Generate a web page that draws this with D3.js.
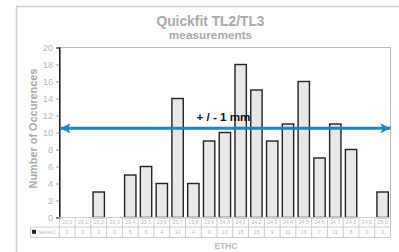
<!DOCTYPE html>
<html><head><meta charset="utf-8">
<script src="https://cdn.jsdelivr.net/npm/d3@7/dist/d3.min.js"></script>
<style>body{margin:0;background:#fff}svg{display:block;font-family:"Liberation Sans",Arial,sans-serif}</style>
</head><body><svg id="c" width="399" height="252"></svg>
<script>
const categories = ["23,0","23,1","23,2","23,3","23,4","23,5","23,6","23,7","23,8","23,9","24,0","24,1","24,2","24,3","24,4","24,5","24,6","24,7","24,8","24,9","25,0"];
const values = [0,0,3,0,5,6,4,14,4,9,10,18,15,9,11,16,7,11,8,0,3];
const yTicks = [0,2,4,6,8,10,12,14,16,18,20];
const tolerance = 10.5;
const seriesName = "Series1";

const svg = d3.select("#c");
const L = 59.3, R = 390.5, T = 47.5, B = 217.5;
const x = d3.scaleBand().domain(categories).range([L, R]).paddingInner(0.28).paddingOuter(0.14);
const xc = d3.scaleBand().domain(categories).range([L, R]);
const y = d3.scaleLinear().domain([0, 20]).range([B, T]);

// outer frame
svg.append("rect").attr("x",16.5).attr("y",6.5).attr("width",420).attr("height",300)
  .attr("fill","none").attr("stroke","#d0d0d0").attr("stroke-width",1.5);

// titles
svg.append("text").attr("x",210.5).attr("y",26).attr("text-anchor","middle")
  .attr("font-size",13.8).attr("font-weight","bold").attr("fill","#aaa").text("Quickfit TL2/TL3");
svg.append("text").attr("x",210.5).attr("y",38.5).attr("text-anchor","middle")
  .attr("font-size",11.8).attr("font-weight","bold").attr("fill","#aaa").text("measurements");

// plot frame (top, right)
svg.append("path").attr("d",`M${L},${T}H${R}V${B}`).attr("fill","none").attr("stroke","#bbb").attr("stroke-width",1);

// bars
svg.append("g").selectAll("rect").data(values).join("rect")
  .attr("x",(d,i)=>x(categories[i])).attr("width",x.bandwidth())
  .attr("y",d=>y(d)).attr("height",d=>B-y(d))
  .attr("fill","#e8e8e8").attr("stroke","#222").attr("stroke-width",1.4)
  .attr("display",d=>d>0?null:"none");

// y axis
const ya = svg.append("g").attr("transform",`translate(${L},0)`)
  .call(d3.axisLeft(y).tickValues(yTicks).tickSize(3).tickPadding(3));
ya.select(".domain").attr("stroke","#111").attr("stroke-width",1.5);
ya.selectAll(".tick line").attr("stroke","#999");
ya.selectAll(".tick text").attr("fill","#bbb").attr("font-size",9.5).attr("font-family","Liberation Sans, Arial, sans-serif");

svg.append("text").attr("transform",`translate(36.5,128.5) rotate(-90)`).attr("text-anchor","middle")
  .attr("font-size",10.9).attr("font-weight","bold").attr("fill","#aaa").text("Number of Occurences");

// data table
const r1 = B, r2 = 227, r3 = 237.5, tl = 30.7;
const tg = svg.append("g").attr("stroke","#ccc").attr("stroke-width",1).attr("fill","none");
tg.append("line").attr("x1",L).attr("x2",R).attr("y1",r1).attr("y2",r1);
tg.append("line").attr("x1",tl).attr("x2",R).attr("y1",r2).attr("y2",r2);
tg.append("line").attr("x1",tl).attr("x2",R).attr("y1",r3).attr("y2",r3);
tg.append("line").attr("x1",tl).attr("x2",tl).attr("y1",r2).attr("y2",r3);
tg.selectAll("line.v").data(categories.concat(["end"])).join("line").attr("class","v")
  .attr("x1",(d,i)=>L+i*xc.step()).attr("x2",(d,i)=>L+i*xc.step()).attr("y1",r1).attr("y2",r3);
svg.append("g").selectAll("text").data(categories).join("text")
  .attr("x",d=>xc(d)+xc.bandwidth()/2).attr("y",224.3).attr("text-anchor","middle")
  .attr("font-size",5.2).attr("fill","#bbb").text(d=>d);
svg.append("g").selectAll("text").data(values).join("text")
  .attr("x",(d,i)=>xc(categories[i])+xc.bandwidth()/2).attr("y",234.3).attr("text-anchor","middle")
  .attr("font-size",5.2).attr("fill","#bbb").text(d=>d);
svg.append("rect").attr("x",32).attr("y",229.8).attr("width",4).attr("height",4).attr("fill","#222");
svg.append("text").attr("x",38).attr("y",234.2).attr("font-size",5.2).attr("fill","#bbb").text(seriesName);

svg.append("text").attr("x",226).attr("y",249).attr("text-anchor","middle")
  .attr("font-size",8.5).attr("font-weight","bold").attr("fill","#bbb").text("ETHC");

// tolerance arrow
const defs = svg.append("defs");
defs.append("marker").attr("id","ah").attr("viewBox","0 0 10 10").attr("refX",10).attr("refY",5)
  .attr("markerWidth",3.4).attr("markerHeight",3.4).attr("markerUnits","strokeWidth").attr("orient","auto-start-reverse")
  .append("path").attr("d","M0,0L10,5L0,10L2.5,5Z").attr("fill","#1a86c8");
svg.append("line").attr("x1",L+1).attr("x2",R).attr("y1",y(tolerance)).attr("y2",y(tolerance))
  .attr("stroke","#1a86c8").attr("stroke-width",3)
  .attr("marker-start","url(#ah)").attr("marker-end","url(#ah)");
svg.append("text").attr("x",223.5).attr("y",120.5).attr("text-anchor","middle")
  .attr("font-size",11.6).attr("font-weight","bold").attr("fill","#111").text("+ / - 1 mm");
</script></body></html>
